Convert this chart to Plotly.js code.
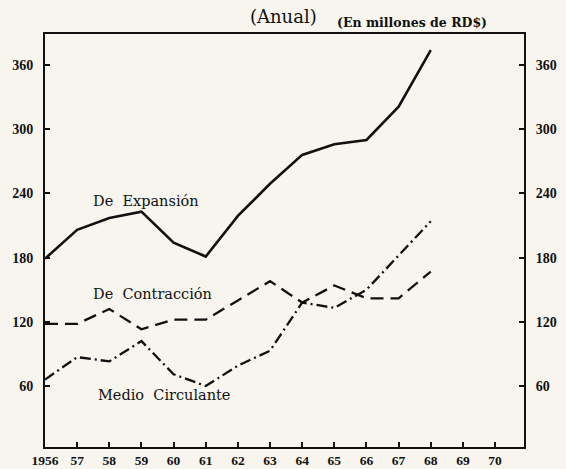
<!DOCTYPE html>
<html>
<head>
<meta charset="utf-8">
<script src="https://cdn.plot.ly/plotly-3.0.1.min.js"></script>
<style>
html,body{margin:0;padding:0;background:#f7f5ee;}
#chart{width:566px;height:469px;}
</style>
</head>
<body>
<div id="chart"></div>
<script>
var years = [1956,1957,1958,1959,1960,1961,1962,1963,1964,1965,1966,1967,1968];
var expansion = [179,206,217,223,194,181,219,249,276,286,290,321,374];
var contraccion = [118,118,132,113,122,122,140,158,138,154,142,142,167];
var medio = [66,87,83,102,71,60,79,93,138,133,150,182,214];
var xTickVals = [1956,1957,1958,1959,1960,1961,1962,1963,1964,1965,1966,1967,1968,1969,1970];
var xTickText = ['1956','57','58','59','60','61','62','63','64','65','66','67','68','69','70'];
var yTickVals = [60,120,180,240,300,360];
var yTickText = ['60','120','180','240','300','360'];

var serif = 'Liberation Serif, DejaVu Serif, serif';
var dserif = 'DejaVu Serif, Liberation Serif, serif';
var yRange = [3,389];

var traces = [
  {x: years, y: expansion, mode:'lines', line:{color:'#111', width:2.6}, hoverinfo:'skip', xaxis:'x', yaxis:'y'},
  {x: years, y: contraccion, mode:'lines', line:{color:'#111', width:2.3, dash:'13px,7px'}, hoverinfo:'skip', xaxis:'x', yaxis:'y'},
  {x: years, y: medio, mode:'lines', line:{color:'#111', width:2.3, dash:'11px,4px,2px,4px'}, hoverinfo:'skip', xaxis:'x', yaxis:'y2'}
];

var axisCommon = {
  showgrid:false, zeroline:false, showline:true, linecolor:'#111', linewidth:2,
  ticks:'inside', ticklen:5, tickwidth:2, tickcolor:'#111',
  tickfont:{family:serif, size:14, color:'#111', weight:'bold'}
};

var layout = {
  width:566, height:469,
  margin:{l:45, r:42, t:34, b:22},
  paper_bgcolor:'#f7f5ee', plot_bgcolor:'#f7f5ee',
  showlegend:false,
  xaxis: Object.assign({}, axisCommon, {
    range:[1956,1970.9], tickvals:xTickVals, ticktext:xTickText,
    mirror:true, ticklabelstandoff:0,
    tickfont:{family:serif, size:13.5, color:'#111', weight:'bold'}
  }),
  yaxis: Object.assign({}, axisCommon, {
    range:yRange, tickvals:yTickVals, ticktext:yTickText, ticklabelstandoff:7
  }),
  yaxis2: Object.assign({}, axisCommon, {
    range:yRange, tickvals:yTickVals, ticktext:yTickText,
    overlaying:'y', side:'right', ticklabelstandoff:7
  }),
  annotations: [
    {text:'(Anual)', xref:'paper', yref:'paper', x:0.497, y:1.012, xanchor:'center', yanchor:'bottom', showarrow:false,
     font:{family:dserif, size:18, color:'#111'}},
    {text:'<b>(En millones de RD$)</b>', xref:'paper', yref:'paper', x:0.605, y:1.006, xanchor:'left', yanchor:'bottom', showarrow:false,
     font:{family:dserif, size:12.5, color:'#111'}},
    {text:'De  Expansión', xref:'paper', yref:'paper', x:0.096, y:0.596, xanchor:'left', yanchor:'middle', showarrow:false,
     font:{family:dserif, size:14.5, color:'#111'}},
    {text:'De  Contracción', xref:'paper', yref:'paper', x:0.096, y:0.37, xanchor:'left', yanchor:'middle', showarrow:false,
     font:{family:dserif, size:14.5, color:'#111'}},
    {text:'Medio  Circulante', xref:'paper', yref:'paper', x:0.106, y:0.126, xanchor:'left', yanchor:'middle', showarrow:false,
     font:{family:dserif, size:14.5, color:'#111'}}
  ]
};

Plotly.newPlot('chart', traces, layout, {staticPlot:true, displayModeBar:false});
</script>
</body>
</html>
